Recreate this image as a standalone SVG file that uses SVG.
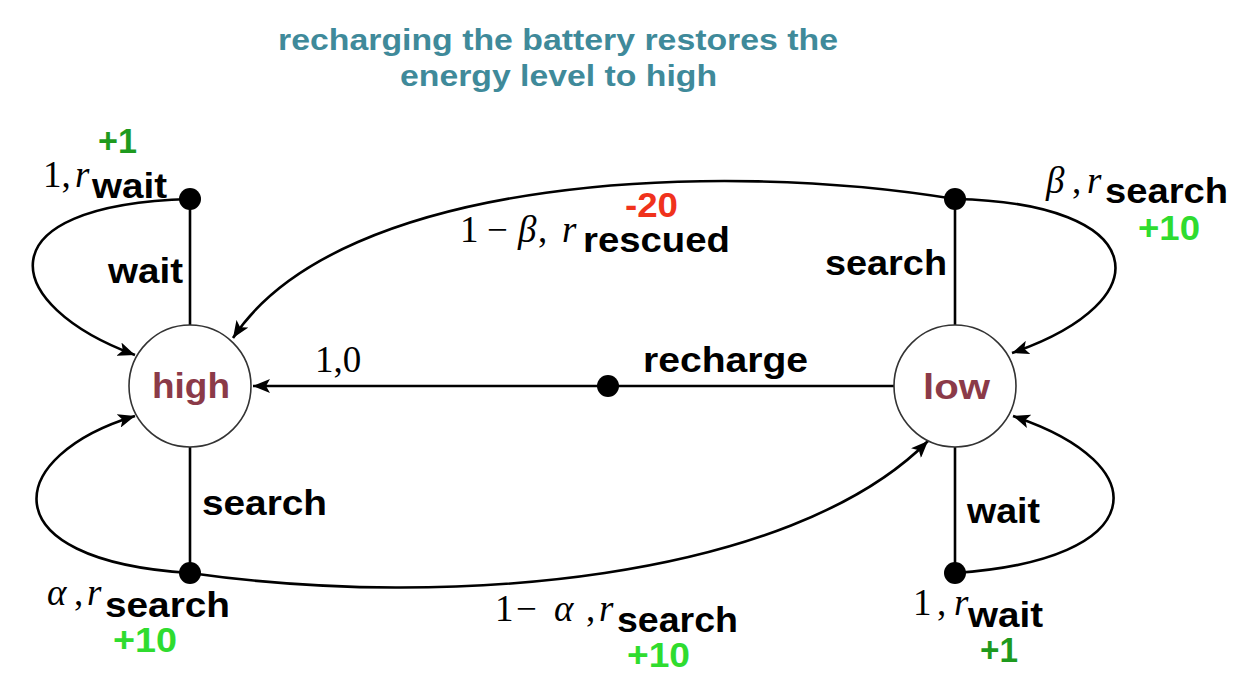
<svg xmlns="http://www.w3.org/2000/svg" width="1249" height="683" viewBox="0 0 1249 683">
<defs>
<marker id="arr" markerUnits="userSpaceOnUse" markerWidth="20" markerHeight="14" refX="17" refY="7" orient="auto">
<path d="M0,0 L17,7 L0,14 L4,7 z" fill="#000"/>
</marker>
<style>
.b{font-family:"Liberation Sans",Arial,sans-serif;font-weight:bold;font-size:35px;fill:#000}
.m{font-family:"Liberation Serif","Times New Roman",serif;font-size:37px;fill:#000}
.i{font-style:italic}
.t{font-family:"Liberation Sans",Arial,sans-serif;font-weight:bold;font-size:29px;fill:#3f8a9a}
.g1{fill:#1e9a1e}
.g2{fill:#2fdc2f}
.red{fill:#f0321c}
.st{fill:#8b3a48}
.node{fill:#fff;stroke:#333;stroke-width:1.6}
.ln{fill:none;stroke:#000;stroke-width:2.6}
.dot{fill:#000}
</style>
</defs>
<rect width="1249" height="683" fill="#fff"/>

<text class="t" x="278" y="50" textLength="560" lengthAdjust="spacingAndGlyphs">recharging the battery restores the</text>
<text class="t" x="400" y="86" textLength="317" lengthAdjust="spacingAndGlyphs">energy level to high</text>

<g id="connectors">
<path class="ln" d="M190,199 L190,325"/>
<path class="ln" d="M190,447 L190,573"/>
<path class="ln" d="M955,199 L955,325"/>
<path class="ln" d="M955,447 L955,573"/>
<path class="ln" d="M895,386 L253,386" marker-end="url(#arr)"/>
<path class="ln" d="M190,199 C -20,205 0,305 135,355" marker-end="url(#arr)"/>
<path class="ln" d="M190,573 C -15,560 5,455 135,416" marker-end="url(#arr)"/>
<path class="ln" d="M955,199 C 1150,203 1165,300 1012,353" marker-end="url(#arr)"/>
<path class="ln" d="M955,573 C 1150,560 1160,465 1013,416" marker-end="url(#arr)"/>
<path class="ln" d="M955,199 C 720,160 340,175 233,338" marker-end="url(#arr)"/>
<path class="ln" d="M190,573 C 450,610 790,580 928,441" marker-end="url(#arr)"/>
</g>

<g id="node-high">
<circle class="node" cx="190" cy="386" r="61"/>
<text class="b st" x="152" y="398" textLength="78" lengthAdjust="spacingAndGlyphs">high</text>
</g>
<g id="node-low">
<circle class="node" cx="955" cy="386" r="61"/>
<text class="b st" x="923" y="399" textLength="67" lengthAdjust="spacingAndGlyphs">low</text>
</g>

<g id="action-high-wait">
<circle class="dot" cx="190" cy="199" r="11"/>
<text class="b" x="108" y="283" textLength="75" lengthAdjust="spacingAndGlyphs">wait</text>
<text class="m" x="43" y="187">1,</text><text class="m i" x="75" y="187">r</text>
<text class="b" x="92" y="198" textLength="75" lengthAdjust="spacingAndGlyphs">wait</text>
<text class="b g1" x="98" y="153" textLength="39" lengthAdjust="spacingAndGlyphs">+1</text>
</g>

<g id="action-low-search">
<circle class="dot" cx="955" cy="199" r="11"/>
<text class="b" x="825" y="275" textLength="122" lengthAdjust="spacingAndGlyphs">search</text>
<text class="m i" x="1046" y="193">β</text><text class="m" x="1072" y="193">,</text><text class="m i" x="1087" y="193">r</text>
<text class="b" x="1105" y="203" textLength="123" lengthAdjust="spacingAndGlyphs">search</text>
<text class="b g2" x="1138" y="240" textLength="62" lengthAdjust="spacingAndGlyphs">+10</text>
<text class="m" x="460" y="242">1</text><text class="m" x="487" y="242">−</text><text class="m i" x="518" y="242">β</text><text class="m" x="538" y="242">,</text><text class="m i" x="562" y="242">r</text>
<text class="b" x="583" y="252" textLength="147" lengthAdjust="spacingAndGlyphs">rescued</text>
<text class="b red" x="625" y="217" textLength="53" lengthAdjust="spacingAndGlyphs">-20</text>
</g>

<g id="action-low-recharge">
<circle class="dot" cx="608" cy="386" r="11"/>
<text class="b" x="643" y="372" textLength="165" lengthAdjust="spacingAndGlyphs">recharge</text>
<text class="m" x="315" y="372">1,0</text>
</g>

<g id="action-high-search">
<circle class="dot" cx="190" cy="573" r="11"/>
<text class="b" x="202" y="515" textLength="125" lengthAdjust="spacingAndGlyphs">search</text>
<text class="m i" x="47" y="605">α</text><text class="m" x="74" y="605">,</text><text class="m i" x="87" y="605">r</text>
<text class="b" x="105" y="617" textLength="125" lengthAdjust="spacingAndGlyphs">search</text>
<text class="b g2" x="113" y="652" textLength="64" lengthAdjust="spacingAndGlyphs">+10</text>
<text class="m" x="495" y="621">1</text><text class="m" x="516" y="621">−</text><text class="m i" x="554" y="621">α</text><text class="m" x="586" y="621">,</text><text class="m i" x="599" y="621">r</text>
<text class="b" x="617" y="632" textLength="121" lengthAdjust="spacingAndGlyphs">search</text>
<text class="b g2" x="627" y="667" textLength="63" lengthAdjust="spacingAndGlyphs">+10</text>
</g>

<g id="action-low-wait">
<circle class="dot" cx="955" cy="573" r="11"/>
<text class="b" x="967" y="523" textLength="73" lengthAdjust="spacingAndGlyphs">wait</text>
<text class="m" x="913" y="615">1</text><text class="m" x="937" y="615">,</text><text class="m i" x="954" y="615">r</text>
<text class="b" x="968" y="627" textLength="75" lengthAdjust="spacingAndGlyphs">wait</text>
<text class="b g1" x="980" y="662" textLength="38" lengthAdjust="spacingAndGlyphs">+1</text>
</g>
</svg>
